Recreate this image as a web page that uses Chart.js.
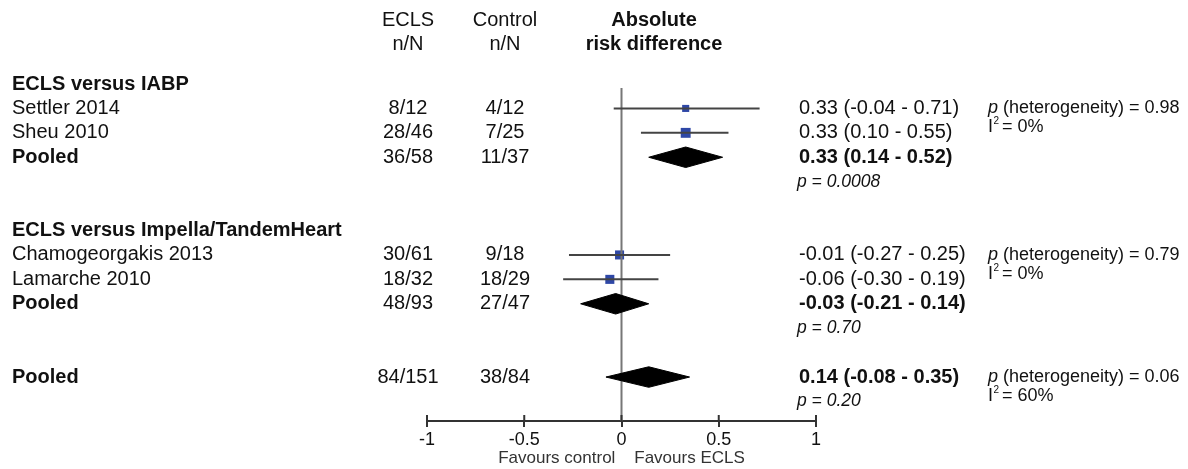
<!DOCTYPE html>
<html lang="en">
<head>
    <meta charset="UTF-8">
    <title>Absolute risk difference - ECLS</title>
    <script src="https://cdn.jsdelivr.net/npm/chart.js"></script>
    <style>
        body {
            margin: 0;
            padding: 0;
            background-color: #fff;
        }
        .chart-container {
            position: relative;
            width: 1188px;
            height: 469px;
        }
    </style>
</head>
<body>

<div class="chart-container">
    <canvas id="forestChart"></canvas>
</div>

<script>
    // ---- data ----
    const groupTitles = ['ECLS versus IABP', 'ECLS versus Impella/TandemHeart'];
    const groupRows = [0, 6];

    const studyNames = ['Settler 2014', 'Sheu 2010', 'Chamogeorgakis 2013', 'Lamarche 2010'];
    const studyRows = [1, 2, 7, 8];
    const studyEcls = ['8/12', '28/46', '30/61', '18/32'];
    const studyControl = ['4/12', '7/25', '9/18', '18/29'];
    const studyRd = [0.33, 0.33, -0.01, -0.06];
    const studyLo = [-0.04, 0.10, -0.27, -0.30];
    const studyHi = [0.71, 0.55, 0.25, 0.19];

    const pooledNames = ['Pooled', 'Pooled', 'Pooled'];
    const pooledRows = [3, 9, 12];
    const pooledEcls = ['36/58', '48/93', '84/151'];
    const pooledControl = ['11/37', '27/47', '38/84'];
    const pooledRd = [0.33, -0.03, 0.14];
    const pooledLo = [0.14, -0.21, -0.08];
    const pooledHi = [0.52, 0.14, 0.35];
    const pooledP = ['0.0008', '0.70', '0.20'];
    const hetP = ['0.98', '0.79', '0.06'];
    const hetI2 = ['0%', '0%', '60%'];

    const xTicks = [-1, -0.5, 0, 0.5, 1];

    // ---- styling ----
    const squareRadius = [5, 7, 6.4, 6.4];
    const diamondHalf = 0.42;
    const FONT = '"Liberation Sans", Arial, sans-serif';
    const TEXT = '#111';

    const fmt = v => v.toFixed(2);
    const ciText = (rd, lo, hi) => fmt(rd) + ' (' + fmt(lo) + ' - ' + fmt(hi) + ')';

    // whiskers
    const datasets = [];
    studyRd.forEach((rd, i) => {
        datasets.push({
            type: 'line',
            data: [{x: studyLo[i], y: studyRows[i]}, {x: studyHi[i], y: studyRows[i]}],
            borderColor: '#444',
            borderWidth: 2,
            pointRadius: 0,
            showLine: true
        });
    });

    // diamonds for pooled estimates
    pooledRd.forEach((rd, i) => {
        const r = pooledRows[i];
        datasets.push({
            type: 'line',
            data: [
                {x: pooledLo[i], y: r},
                {x: rd, y: r - diamondHalf},
                {x: pooledHi[i], y: r},
                {x: rd, y: r + diamondHalf},
                {x: pooledLo[i], y: r}
            ],
            borderColor: '#000',
            backgroundColor: '#000',
            borderWidth: 1,
            pointRadius: 0,
            fill: 'shape',
            tension: 0,
            showLine: true
        });
    });

    // zero reference line
    datasets.push({
        type: 'line',
        data: [{x: 0, y: 0.16}, {x: 0, y: 13.8}],
        borderColor: '#777',
        borderWidth: 2,
        pointRadius: 0,
        showLine: true
    });

    // study squares
    datasets.push({
        type: 'scatter',
        data: studyRd.map((rd, i) => ({x: rd, y: studyRows[i]})),
        pointStyle: 'rect',
        pointRadius: squareRadius,
        backgroundColor: '#2e47a6',
        borderColor: '#2e47a6',
        borderWidth: 0
    });

    function drawText(ctx, txt, x, y, opts) {
        ctx.font = (opts.style || '') + ' ' + (opts.weight || 'normal') + ' ' + (opts.size || 20) + 'px ' + FONT;
        ctx.textAlign = opts.align || 'left';
        ctx.fillStyle = opts.color || TEXT;
        ctx.fillText(txt, x, y);
        return ctx.measureText(txt).width;
    }

    const textPlugin = {
        id: 'forestText',
        afterDraw(chart) {
            const ctx = chart.ctx;
            const ys = chart.scales.y;
            const xs = chart.scales.x;
            const Y = r => ys.getPixelForValue(r);
            ctx.save();
            ctx.textBaseline = 'middle';

            // column headers
            drawText(ctx, 'ECLS', 408, Y(-2.6), {align: 'center'});
            drawText(ctx, 'n/N', 408, Y(-1.6), {align: 'center'});
            drawText(ctx, 'Control', 505, Y(-2.6), {align: 'center'});
            drawText(ctx, 'n/N', 505, Y(-1.6), {align: 'center'});
            drawText(ctx, 'Absolute', 654, Y(-2.6), {align: 'center', weight: 'bold'});
            drawText(ctx, 'risk difference', 654, Y(-1.6), {align: 'center', weight: 'bold'});

            groupTitles.forEach((t, i) => drawText(ctx, t, 12, Y(groupRows[i]), {weight: 'bold'}));

            studyNames.forEach((n, i) => {
                const y = Y(studyRows[i]);
                drawText(ctx, n, 12, y, {});
                drawText(ctx, studyEcls[i], 408, y, {align: 'center'});
                drawText(ctx, studyControl[i], 505, y, {align: 'center'});
                drawText(ctx, ciText(studyRd[i], studyLo[i], studyHi[i]), 799, y, {});
            });

            pooledNames.forEach((n, i) => {
                const y = Y(pooledRows[i]);
                drawText(ctx, n, 12, y, {weight: 'bold'});
                drawText(ctx, pooledEcls[i], 408, y, {align: 'center'});
                drawText(ctx, pooledControl[i], 505, y, {align: 'center'});
                drawText(ctx, ciText(pooledRd[i], pooledLo[i], pooledHi[i]), 799, y, {weight: 'bold'});
                drawText(ctx, 'p = ' + pooledP[i], 797, Y(pooledRows[i] + 1), {style: 'italic', size: 17.5});

                // heterogeneity block, next to the first line of each block
                const hRow = i < 2 ? pooledRows[i] - 2 : pooledRows[i];
                const hy = Y(hRow);
                let x = 988;
                x += drawText(ctx, 'p', x, hy, {style: 'italic', size: 18});
                drawText(ctx, ' (heterogeneity) = ' + hetP[i], x, hy, {size: 18});
                const iy = hy + 19;
                x = 988;
                x += drawText(ctx, 'I', x, iy, {size: 18});
                drawText(ctx, '2', x + 0.5, iy - 6, {size: 10});
                drawText(ctx, ' = ' + hetI2[i], x + 4, iy, {size: 18});
            });

            // upper half of the axis tick marks
            const axisY = xs.top;
            ctx.strokeStyle = '#333';
            ctx.lineWidth = 2;
            xTicks.forEach(v => {
                const px = xs.getPixelForValue(v);
                ctx.beginPath();
                ctx.moveTo(px, axisY - 6);
                ctx.lineTo(px, axisY);
                ctx.stroke();
            });
            ctx.restore();
        }
    };

    const ctx = document.getElementById('forestChart').getContext('2d');
    const forestChart = new Chart(ctx, {
        type: 'scatter',
        data: {datasets: datasets},
        options: {
            responsive: true,
            maintainAspectRatio: false,
            animation: false,
            layout: {
                autoPadding: false,
                padding: {left: 427, right: 372, top: 0, bottom: 0}
            },
            plugins: {
                legend: {display: false},
                tooltip: {enabled: false}
            },
            scales: {
                x: {
                    type: 'linear',
                    min: -1,
                    max: 1,
                    afterBuildTicks: scale => {
                        scale.ticks = xTicks.map(v => ({value: v}));
                    },
                    afterFit: scale => {
                        scale.height = 48;
                    },
                    border: {display: true, color: '#333', width: 2},
                    grid: {
                        drawOnChartArea: false,
                        drawTicks: true,
                        tickLength: 6,
                        color: '#333',
                        lineWidth: 2
                    },
                    ticks: {
                        color: TEXT,
                        padding: 2,
                        font: {family: FONT, size: 18},
                        callback: v => String(v)
                    },
                    title: {
                        display: true,
                        text: 'Favours control    Favours ECLS',
                        color: '#333',
                        font: {family: FONT, size: 17},
                        padding: {top: 0, bottom: 0}
                    }
                },
                y: {
                    type: 'linear',
                    display: false,
                    reverse: true,
                    min: -3.44,
                    max: 13.8
                }
            }
        },
        plugins: [textPlugin]
    });
</script>

</body>
</html>
